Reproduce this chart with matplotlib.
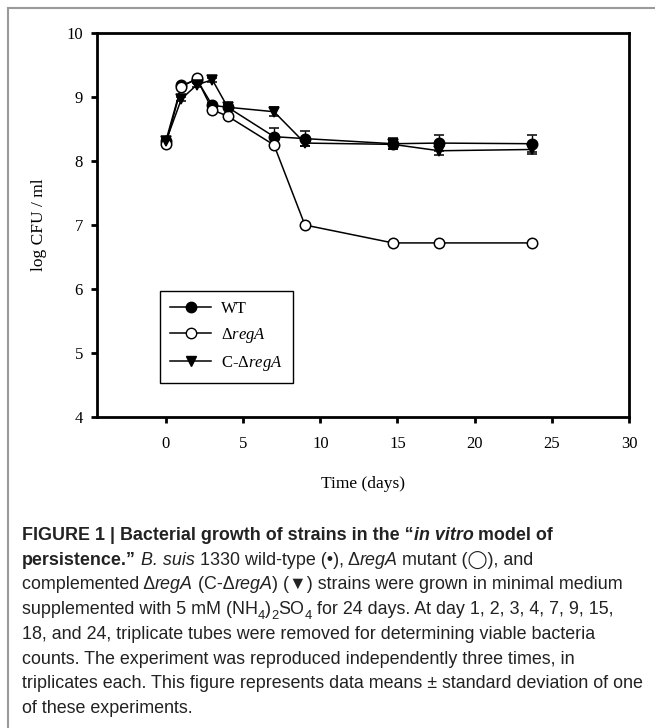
import numpy as np
import matplotlib
matplotlib.use('Agg')
import matplotlib.pyplot as plt
from matplotlib.lines import Line2D

# data
days = [0, 1, 2, 3, 4, 7, 9, 14.7, 17.7, 23.7]
wt = [8.32, 9.18, 9.27, 8.87, 8.84, 8.38, 8.35, 8.27, 8.28, 8.27]
wt_err = [0.03, 0.03, 0.03, 0.03, 0.03, 0.13, 0.12, 0.09, 0.13, 0.13]
rega = [8.27, 9.16, 9.29, 8.80, 8.70, 8.25, 7.00, 6.72, 6.72, 6.72]
c_rega = [8.31, 8.97, 9.19, 9.27, 8.84, 8.77, 8.28, 8.26, 8.16, 8.18]
c_rega_err = [0.02, 0.03, 0.03, 0.03, 0.03, 0.07, 0.05, 0.08, 0.07, 0.07]

labels = ['WT', 'Δ$\\mathit{regA}$', 'C-Δ$\\mathit{regA}$']
xticks = [0, 5, 10, 15, 20, 25, 30]
yticks = [4, 5, 6, 7, 8, 9, 10]

caption = [
    [("FIGURE 1 | Bacterial growth of strains in the \u201c", 'b'), ("in vitro", 'bi'), (" model of", 'b')],
    [("persistence.\u201d", 'b'), (" ", 'n'), ("B. suis", 'i'), (" 1330 wild-type (\u2022), \u0394", 'n'),
     ("regA", 'i'), (" mutant (\u25ef), and", 'n')],
    [("complemented \u0394", 'n'), ("regA", 'i'), (" (C-\u0394", 'n'), ("regA", 'i'),
     (") (\u25bc) strains were grown in minimal medium", 'n')],
    [("supplemented with 5 mM (NH", 'n'), ("4", 's'), (")", 'n'), ("2", 's'), ("SO", 'n'), ("4", 's'),
     (" for 24 days. At day 1, 2, 3, 4, 7, 9, 15,", 'n')],
    [("18, and 24, triplicate tubes were removed for determining viable bacteria", 'n')],
    [("counts. The experiment was reproduced independently three times, in", 'n')],
    [("triplicates each. This figure represents data means \u00b1 standard deviation of one", 'n')],
    [("of these experiments.", 'n')],
]

W, H = 655, 728
plt.rcParams['font.family'] = ['Liberation Serif', 'DejaVu Serif']
plt.rcParams['mathtext.fontset'] = 'custom'
plt.rcParams['mathtext.rm'] = 'Liberation Serif'
plt.rcParams['mathtext.it'] = 'Liberation Serif:italic'

fig = plt.figure(figsize=(W / 100, H / 100), dpi=100)
ax = fig.add_axes([97 / W, 1 - 417 / H, 532 / W, 384 / H])

kw = dict(color='black', linewidth=1.1, markersize=7.5, markeredgewidth=1.1,
          capsize=3.6, elinewidth=1.0, capthick=1.0)
ax.errorbar(days, wt, yerr=wt_err, marker='o', markerfacecolor='black', label=labels[0], **kw)
ax.errorbar(days, rega, marker='o', markerfacecolor='white', label=labels[1], **kw)
ax.errorbar(days, c_rega, yerr=c_rega_err, marker='v', markerfacecolor='black', label=labels[2], **kw)

ax.set_xlim(-4.47, 30)
ax.set_ylim(4, 10)
ax.set_xticks(xticks)
ax.set_yticks(yticks)
for s in ax.spines.values():
    s.set_linewidth(2.0)
ax.tick_params(axis='both', direction='out', length=4, width=2, labelsize=12)
ax.tick_params(axis='x', pad=10)
ax.tick_params(axis='y', pad=6)
ax.set_xlabel('Time (days)', fontsize=12.5)
ax.set_ylabel('log CFU / ml', fontsize=12.5)
ax.xaxis.set_label_coords(0.5, -0.154)
ax.yaxis.set_label_coords(-0.094, 0.5)

handles = [Line2D([], [], color='black', lw=1.1, marker=m, markersize=7.5, markerfacecolor=fc,
                  markeredgecolor='black') for m, fc in [('o', 'black'), ('o', 'white'), ('v', 'black')]]
leg = ax.legend(handles, labels, loc='lower left', bbox_to_anchor=(0.118, 0.0885),
                borderaxespad=0, fancybox=False, edgecolor='black', framealpha=1,
                fontsize=12, handlelength=2.5, handletextpad=0.6, labelspacing=0.55,
                borderpad=0.6)
leg.get_frame().set_linewidth(1.0)

# grey frame round the figure
fig.add_artist(Line2D([7.5 / W, 1], [1 - 7.5 / H] * 2, color='#9a9a9a', lw=1.5, transform=fig.transFigure))
fig.add_artist(Line2D([7.5 / W] * 2, [0, 1 - 7.5 / H], color='#9a9a9a', lw=1.5, transform=fig.transFigure))

# caption, drawn piece by piece
renderer = fig.canvas.get_renderer()
styles = {'n': ('normal', 'normal'), 'b': ('bold', 'normal'), 'i': ('normal', 'italic'),
          'bi': ('bold', 'italic'), 's': ('normal', 'normal')}
cap_fs = 12.9
cap_font = ['Liberation Sans', 'DejaVu Sans']


def seg_width(s, **props):
    a = fig.text(0, 0, '|' + s + '|', **props)
    b = fig.text(0, 0, '||', **props)
    w = a.get_window_extent(renderer).width - b.get_window_extent(renderer).width
    a.remove()
    b.remove()
    return w


for k, line in enumerate(caption):
    x = 22
    base = 540 + 24.7 * k
    for s, st in line:
        weight, style = styles[st]
        fs = cap_fs * 0.72 if st == 's' else cap_fs
        dy = 4.5 if st == 's' else 0
        props = dict(fontsize=fs, fontweight=weight, fontstyle=style, family=cap_font, color='#222222')
        fig.text(x / W, 1 - (base + dy) / H, s, va='baseline', ha='left', **props)
        x += seg_width(s, **props)

fig.savefig('out.png', dpi=100)
